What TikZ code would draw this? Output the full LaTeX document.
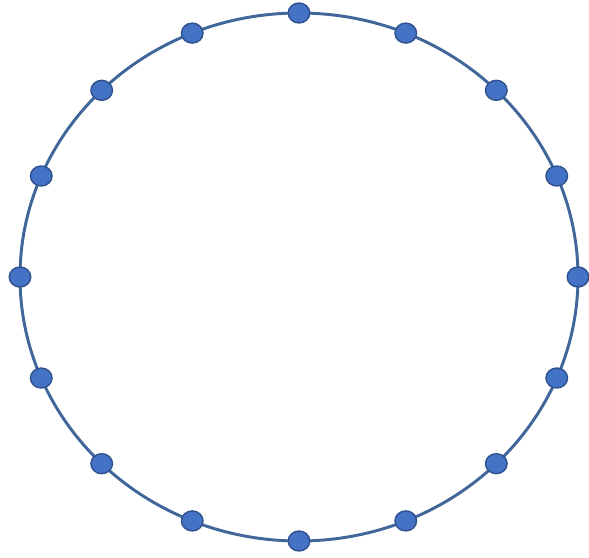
\documentclass[tikz,border=0pt]{standalone}
\usepackage{xcolor}
\usepackage{tikz}
\usetikzlibrary{shapes.geometric}

\definecolor{ringline}{HTML}{41679A}
\definecolor{dotfill}{HTML}{4472C4}
\definecolor{dotline}{HTML}{2F528F}

\begin{document}
\begin{tikzpicture}[
    x=0.025cm, y=-0.025cm,
    ring/.style={draw=ringline, line width=2.1pt},
    dot/.style={ellipse, draw=dotline, fill=dotfill, line width=1pt, minimum width=0.54cm, minimum height=0.5cm, inner sep=0pt},
]
    \useasboundingbox (0,0) rectangle (589,557);
    % Ring
    \coordinate (centre) at (299,277);
    \draw[ring] (centre) ellipse [x radius=279, y radius=264];
    % Dots on the ring
    \foreach \i in {0,...,15}{
        \node[dot] (d\i) at ({299+279*sin(22.5*\i)},{277-264*cos(22.5*\i)}) {};
    }
\end{tikzpicture}
\end{document}
